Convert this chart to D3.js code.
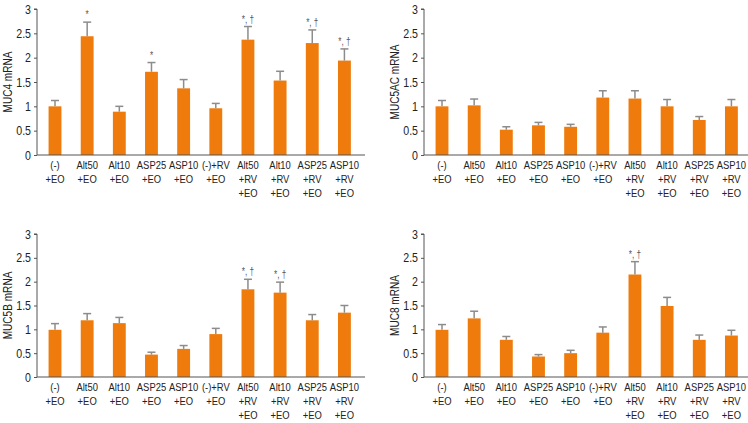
<!DOCTYPE html>
<html>
<head>
<meta charset="utf-8">
<script src="https://cdn.jsdelivr.net/npm/d3@7"></script>
<style>
  html, body { margin: 0; padding: 0; background: #fff; }
  svg { display: block; }
  text { font-family: "Liberation Sans", Arial, sans-serif; }
</style>
</head>
<body>
<svg id="chart" width="748" height="423"></svg>
<script>
// ---- data ----
const categories = [
  "(-)\n+EO", "Alt50\n+EO", "Alt10\n+EO", "ASP25\n+EO", "ASP10\n+EO",
  "(-)+RV\n+EO", "Alt50\n+RV\n+EO", "Alt10\n+RV\n+EO", "ASP25\n+RV\n+EO", "ASP10\n+RV\n+EO"
];
const yTicks = [0, 0.5, 1, 1.5, 2, 2.5, 3];

const muc4Values = [1.00, 2.44, 0.89, 1.71, 1.37, 0.96, 2.37, 1.53, 2.30, 1.94];
const muc4Errors = [0.12, 0.29, 0.11, 0.19, 0.18, 0.10, 0.27, 0.19, 0.27, 0.24];
const muc4Marks  = ["", "*", "", "*", "", "", "*, †", "", "*, †", "*, †"];

const muc5acValues = [1.00, 1.02, 0.52, 0.61, 0.58, 1.18, 1.16, 1.00, 0.72, 1.00];
const muc5acErrors = [0.12, 0.13, 0.06, 0.06, 0.05, 0.14, 0.16, 0.14, 0.07, 0.14];
const muc5acMarks  = ["", "", "", "", "", "", "", "", "", ""];

const muc5bValues = [0.99, 1.19, 1.13, 0.47, 0.59, 0.90, 1.84, 1.77, 1.19, 1.35];
const muc5bErrors = [0.13, 0.14, 0.12, 0.05, 0.07, 0.12, 0.21, 0.22, 0.12, 0.15];
const muc5bMarks  = ["", "", "", "", "", "", "*, †", "*, †", "", ""];

const muc8Values = [0.99, 1.23, 0.78, 0.43, 0.50, 0.93, 2.15, 1.49, 0.78, 0.87];
const muc8Errors = [0.11, 0.15, 0.07, 0.04, 0.06, 0.12, 0.27, 0.18, 0.10, 0.11];
const muc8Marks  = ["", "", "", "", "", "", "*, †", "", "", ""];

const panels = [
  { title: "MUC4 mRNA",   values: muc4Values,   errors: muc4Errors,   marks: muc4Marks },
  { title: "MUC5AC mRNA", values: muc5acValues, errors: muc5acErrors, marks: muc5acMarks },
  { title: "MUC5B mRNA",  values: muc5bValues,  errors: muc5bErrors,  marks: muc5bMarks },
  { title: "MUC8 mRNA",   values: muc8Values,   errors: muc8Errors,   marks: muc8Marks }
];

// ---- layout ----
const layout = [
  { x0: 37,  yBottom: 155, yTop: 9 },
  { x0: 424, yBottom: 155, yTop: 9 },
  { x0: 37,  yBottom: 377, yTop: 234 },
  { x0: 424, yBottom: 377, yTop: 234 }
];
const axisWidth = 328;
const barColor = "#EE7B0C";
const errColor = "#8C8C8C";
const axisColor = "#555";
const squeeze = 0.82;

const svg = d3.select("#chart");

panels.forEach((p, k) => {
  const L = layout[k];
  const x = d3.scaleBand()
    .domain(categories)
    .range([L.x0, L.x0 + axisWidth])
    .paddingInner(0.6)
    .paddingOuter(0.4)
    .align(0.45);
  const y = d3.scaleLinear().domain([0, 3]).range([L.yBottom, L.yTop]);
  const cx = i => x(categories[i]) + x.bandwidth() / 2;

  const g = svg.append("g");

  // bars
  g.selectAll("rect.bar").data(p.values).join("rect")
    .attr("class", "bar")
    .attr("x", (d, i) => x(categories[i]))
    .attr("width", x.bandwidth())
    .attr("y", d => y(d))
    .attr("height", d => y(0) - y(d))
    .attr("fill", barColor);

  // error bars (upper only)
  const eg = g.selectAll("g.err").data(p.values).join("g").attr("class", "err");
  eg.append("line")
    .attr("x1", (d, i) => cx(i)).attr("x2", (d, i) => cx(i))
    .attr("y1", d => y(d))
    .attr("y2", (d, i) => y(d + p.errors[i]))
    .attr("stroke", errColor).attr("stroke-width", 1.5);
  eg.append("line")
    .attr("x1", (d, i) => cx(i) - 4).attr("x2", (d, i) => cx(i) + 4)
    .attr("y1", (d, i) => y(d + p.errors[i]))
    .attr("y2", (d, i) => y(d + p.errors[i]))
    .attr("stroke", errColor).attr("stroke-width", 1.5);

  // significance marks
  g.selectAll("text.sig").data(p.marks).join("text")
    .attr("class", "sig")
    .attr("transform", (d, i) => `translate(${cx(i)},${y(p.values[i] + p.errors[i]) - 4}) scale(${squeeze},1)`)
    .attr("text-anchor", "middle")
    .attr("font-size", 10)
    .attr("fill", "#555")
    .text(d => d);

  // y axis
  const yAxis = d3.axisLeft(y).tickValues(yTicks).tickSize(3).tickPadding(3)
    .tickFormat(d => String(d));
  const ya = g.append("g").attr("transform", `translate(${L.x0},0)`).call(yAxis);
  ya.select(".domain").attr("stroke", axisColor).attr("d", `M-3,${L.yTop}H0V${L.yBottom}`);
  ya.selectAll(".tick line").attr("stroke", axisColor);
  ya.selectAll(".tick text").attr("font-size", 12.5).attr("fill", "#222")
    .attr("font-family", null)
    .attr("x", -6 / 0.85)
    .attr("transform", "scale(0.85,1)");

  // x axis
  const xAxis = d3.axisBottom(x).tickSize(0).tickPadding(0).tickFormat("");
  const xa = g.append("g").attr("transform", `translate(0,${L.yBottom})`).call(xAxis);
  xa.select(".domain").attr("stroke", axisColor).attr("d", `M${L.x0},0H${L.x0 + axisWidth}`);
  xa.selectAll(".tick").each(function (d) {
    const t = d3.select(this).append("text")
      .attr("fill", "#222").attr("font-size", 11.5).attr("text-anchor", "middle")
      .attr("transform", `scale(${squeeze},1)`);
    d.split("\n").forEach((line, j) => {
      t.append("tspan").attr("x", 0).attr("y", 14 + j * 14).text(line);
    });
  });

  // y title
  g.append("text")
    .attr("transform", `translate(${L.x0 - 25},${(L.yTop + L.yBottom) / 2}) rotate(-90) scale(0.84,1)`)
    .attr("text-anchor", "middle")
    .attr("font-size", 12)
    .attr("fill", "#222")
    .text(p.title);
});
</script>
</body>
</html>
